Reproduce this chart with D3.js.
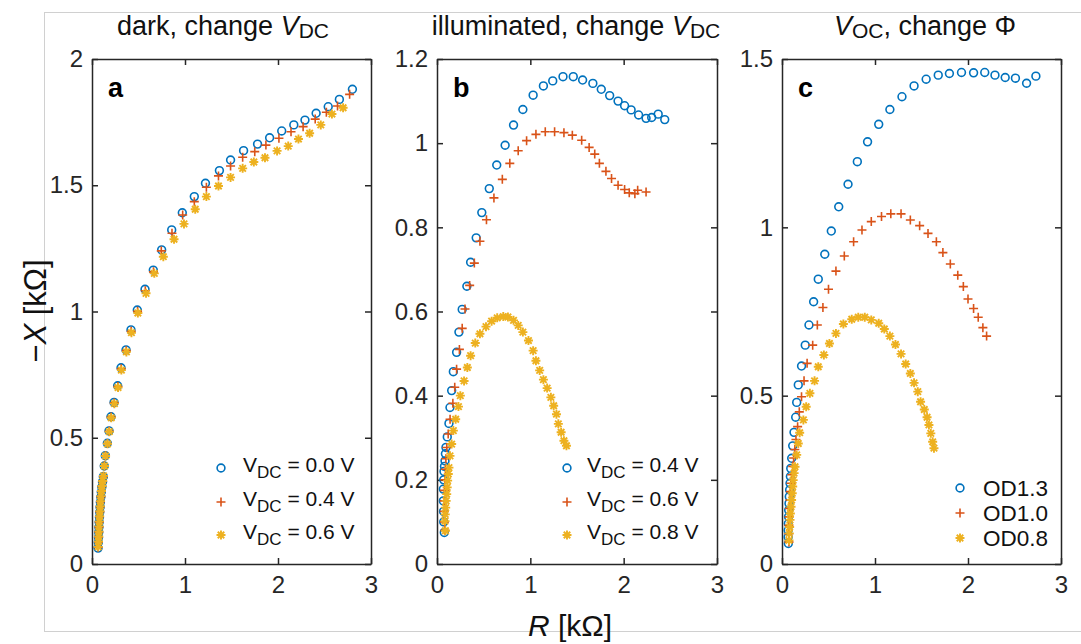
<!DOCTYPE html>
<html>
<head>
<meta charset="utf-8">
<script src="https://cdn.jsdelivr.net/npm/d3@7"></script>
<style>
  body { margin: 0; background: #fff; }
  svg { font-family: Helvetica, "Liberation Sans", Arial, sans-serif; }
  .tick text { fill: #262626; font-size: 24px; font-family: Helvetica, "Liberation Sans", Arial, sans-serif; }
  .domain, .tick line { stroke: #262626; stroke-width: 1.5; }
</style>
</head>
<body>
<div id="chart"></div>
<script>
// data, [R, -X] in kOhm
var darkV00 = [[0.065,0.063],[0.068,0.085],[0.07,0.105],[0.072,0.125],[0.074,0.145],[0.077,0.165],[0.08,0.185],[0.083,0.205],[0.087,0.225],[0.09,0.245],[0.095,0.265],[0.1,0.285],[0.106,0.305],[0.113,0.325],[0.122,0.346],[0.132,0.388],[0.143,0.429],[0.165,0.478],[0.183,0.527],[0.204,0.583],[0.237,0.640],[0.276,0.706],[0.312,0.777],[0.366,0.848],[0.419,0.927],[0.487,1.006],[0.570,1.088],[0.659,1.164],[0.749,1.244],[0.857,1.323],[0.971,1.391],[1.10,1.455],[1.22,1.508],[1.37,1.558],[1.49,1.600],[1.63,1.637],[1.78,1.663],[1.91,1.688],[2.04,1.715],[2.17,1.739],[2.29,1.758],[2.41,1.785],[2.54,1.811],[2.66,1.840],[2.80,1.880]];
var darkV04 = [[0.066,0.066],[0.069,0.087],[0.071,0.107],[0.073,0.127],[0.075,0.147],[0.078,0.167],[0.081,0.187],[0.084,0.207],[0.088,0.227],[0.091,0.247],[0.096,0.267],[0.101,0.287],[0.107,0.307],[0.114,0.327],[0.123,0.347],[0.133,0.389],[0.145,0.429],[0.166,0.477],[0.185,0.526],[0.206,0.582],[0.239,0.638],[0.278,0.703],[0.314,0.773],[0.368,0.845],[0.421,0.922],[0.490,1.001],[0.573,1.082],[0.661,1.157],[0.745,1.240],[0.860,1.310],[0.975,1.382],[1.10,1.435],[1.23,1.492],[1.36,1.537],[1.49,1.576],[1.62,1.611],[1.75,1.633],[1.87,1.659],[2.01,1.686],[2.14,1.712],[2.27,1.732],[2.40,1.762],[2.52,1.789],[2.64,1.814],[2.77,1.860]];
var darkV06 = [[0.067,0.068],[0.07,0.089],[0.072,0.109],[0.074,0.129],[0.076,0.149],[0.079,0.169],[0.082,0.189],[0.085,0.209],[0.089,0.229],[0.092,0.249],[0.097,0.269],[0.102,0.289],[0.108,0.309],[0.115,0.329],[0.124,0.349],[0.134,0.388],[0.146,0.428],[0.167,0.476],[0.186,0.524],[0.207,0.579],[0.241,0.635],[0.280,0.699],[0.316,0.768],[0.370,0.840],[0.424,0.916],[0.493,0.994],[0.581,1.072],[0.670,1.151],[0.767,1.217],[0.882,1.286],[0.989,1.347],[1.11,1.405],[1.23,1.455],[1.36,1.497],[1.49,1.531],[1.62,1.567],[1.74,1.592],[1.86,1.609],[1.99,1.636],[2.11,1.655],[2.22,1.683],[2.34,1.706],[2.46,1.739],[2.58,1.782],[2.70,1.807]];

var illumV04 = [[0.078,0.075],[0.072,0.10],[0.070,0.125],[0.068,0.15],[0.068,0.178],[0.072,0.20],[0.075,0.220],[0.080,0.232],[0.086,0.245],[0.090,0.262],[0.096,0.277],[0.11,0.302],[0.128,0.334],[0.139,0.372],[0.157,0.412],[0.175,0.457],[0.21,0.503],[0.235,0.551],[0.27,0.605],[0.32,0.660],[0.36,0.717],[0.42,0.775],[0.48,0.835],[0.56,0.892],[0.64,0.948],[0.73,0.995],[0.82,1.043],[0.92,1.080],[1.03,1.114],[1.14,1.136],[1.24,1.148],[1.35,1.158],[1.46,1.158],[1.56,1.150],[1.67,1.142],[1.76,1.128],[1.85,1.113],[1.94,1.100],[2.01,1.089],[2.08,1.079],[2.16,1.067],[2.24,1.059],[2.30,1.061],[2.37,1.069],[2.44,1.056]];
var illumV06 = [[0.085,0.08],[0.08,0.10],[0.078,0.125],[0.078,0.15],[0.08,0.175],[0.085,0.20],[0.09,0.225],[0.095,0.25],[0.105,0.277],[0.12,0.309],[0.14,0.344],[0.17,0.382],[0.19,0.42],[0.21,0.463],[0.24,0.51],[0.27,0.56],[0.30,0.606],[0.35,0.662],[0.40,0.715],[0.46,0.767],[0.53,0.818],[0.61,0.870],[0.70,0.914],[0.78,0.952],[0.87,0.982],[0.96,1.006],[1.06,1.021],[1.16,1.027],[1.26,1.027],[1.36,1.025],[1.45,1.019],[1.55,1.007],[1.63,0.990],[1.69,0.974],[1.74,0.952],[1.81,0.933],[1.87,0.916],[1.94,0.900],[2.01,0.890],[2.06,0.882],[2.12,0.880],[2.15,0.888],[2.24,0.884]];
var illumV08 = [[0.09,0.079],[0.086,0.102],[0.088,0.118],[0.093,0.134],[0.098,0.150],[0.104,0.166],[0.109,0.182],[0.114,0.198],[0.121,0.214],[0.128,0.229],[0.139,0.257],[0.157,0.285],[0.175,0.317],[0.20,0.344],[0.23,0.374],[0.25,0.400],[0.29,0.435],[0.325,0.467],[0.36,0.495],[0.41,0.525],[0.46,0.547],[0.525,0.564],[0.585,0.577],[0.645,0.585],[0.71,0.588],[0.76,0.587],[0.82,0.579],[0.87,0.567],[0.92,0.551],[0.98,0.531],[1.03,0.507],[1.06,0.483],[1.10,0.460],[1.14,0.438],[1.18,0.418],[1.22,0.396],[1.25,0.376],[1.28,0.356],[1.30,0.333],[1.33,0.313],[1.36,0.293],[1.387,0.281]];

var od13 = [[0.068,0.061],[0.066,0.08],[0.066,0.10],[0.068,0.12],[0.07,0.14],[0.072,0.16],[0.075,0.18],[0.078,0.20],[0.082,0.22],[0.086,0.24],[0.09,0.26],[0.094,0.284],[0.104,0.314],[0.115,0.351],[0.129,0.391],[0.147,0.436],[0.158,0.480],[0.175,0.532],[0.21,0.588],[0.25,0.650],[0.29,0.710],[0.34,0.779],[0.39,0.846],[0.46,0.920],[0.53,0.989],[0.61,1.061],[0.71,1.128],[0.81,1.195],[0.92,1.254],[1.04,1.306],[1.16,1.350],[1.29,1.388],[1.42,1.420],[1.55,1.440],[1.68,1.452],[1.80,1.457],[1.93,1.460],[2.06,1.459],[2.18,1.460],[2.29,1.452],[2.40,1.445],[2.51,1.443],[2.63,1.428],[2.73,1.449]];
var od10 = [[0.075,0.065],[0.073,0.09],[0.074,0.115],[0.076,0.14],[0.08,0.165],[0.085,0.19],[0.09,0.215],[0.096,0.24],[0.105,0.265],[0.115,0.29],[0.125,0.315],[0.138,0.34],[0.15,0.37],[0.168,0.408],[0.186,0.452],[0.21,0.497],[0.237,0.544],[0.27,0.596],[0.33,0.650],[0.38,0.710],[0.44,0.762],[0.50,0.816],[0.58,0.870],[0.67,0.915],[0.77,0.957],[0.86,0.992],[0.96,1.017],[1.07,1.032],[1.17,1.040],[1.28,1.040],[1.38,1.022],[1.48,1.005],[1.57,0.982],[1.66,0.957],[1.73,0.925],[1.81,0.891],[1.89,0.858],[1.95,0.824],[2.00,0.787],[2.06,0.759],[2.11,0.733],[2.16,0.702],[2.20,0.677]];
var od08 = [[0.075,0.07],[0.078,0.091],[0.082,0.11],[0.086,0.131],[0.09,0.15],[0.097,0.170],[0.103,0.19],[0.11,0.210],[0.115,0.23],[0.12,0.249],[0.13,0.27],[0.14,0.289],[0.158,0.324],[0.175,0.358],[0.19,0.390],[0.23,0.428],[0.26,0.467],[0.30,0.507],[0.35,0.544],[0.39,0.586],[0.45,0.621],[0.51,0.655],[0.58,0.685],[0.66,0.713],[0.75,0.727],[0.82,0.733],[0.89,0.733],[0.96,0.725],[1.04,0.715],[1.10,0.698],[1.16,0.677],[1.22,0.652],[1.28,0.624],[1.33,0.594],[1.38,0.566],[1.42,0.538],[1.46,0.512],[1.49,0.482],[1.53,0.459],[1.56,0.436],[1.58,0.413],[1.60,0.388],[1.62,0.363],[1.634,0.344]];

var xTicks = [0, 1, 2, 3];
var yTicksA = [0, 0.5, 1, 1.5, 2];
var yTicksB = [0, 0.2, 0.4, 0.6, 0.8, 1, 1.2];
var yTicksC = [0, 0.5, 1, 1.5];

var legendA = ["0.0", "0.4", "0.6"];
var legendB = ["0.4", "0.6", "0.8"];
var legendC = ["OD1.3", "OD1.0", "OD0.8"];

var colors = ["#0072BD", "#D95319", "#EDB120"];

var svgWidth = 1081;
var svgHeight = 644;

var svg = d3.select("#chart")
  .append("svg")
  .attr("width", svgWidth)
  .attr("height", svgHeight);

// light frame round the figure
svg.append("rect")
  .attr("x", 44.5).attr("y", 12.5)
  .attr("width", 1060).attr("height", 619)
  .attr("fill", "none")
  .attr("stroke", "#d0d0d0")
  .attr("stroke-width", 1);

// marker shapes
function markerPath(i) {
  var s = 4.5;
  if (i === 1) return `M${-s},0H${s}M0,${-s}V${s}`;
  if (i === 2) {
    var d = s * 0.72;
    return `M${-s},0H${s}M0,${-s}V${s}M${-d},${-d}L${d},${d}M${-d},${d}L${d},${-d}`;
  }
  return null;
}

function drawMarker(g, i, x, y) {
  if (i === 0) {
    g.append("circle")
      .attr("cx", x).attr("cy", y).attr("r", 3.9)
      .attr("fill", "none")
      .attr("stroke", colors[0])
      .attr("stroke-width", 1.6);
  } else {
    g.append("path")
      .attr("transform", `translate(${x},${y})`)
      .attr("d", markerPath(i))
      .attr("fill", "none")
      .attr("stroke", colors[i])
      .attr("stroke-width", i === 2 ? 1.9 : 1.6);
  }
}

var panels = [
  { left: 92, right: 371, yMax: 2, yTicks: yTicksA, series: [darkV00, darkV04, darkV06], letter: "a", titleX: 223,
    title: ["dark, change ", "V", "DC"], legend: legendA, legX: 221, legTx: 243, legY: [468, 502, 535] },
  { left: 437, right: 717, yMax: 1.2, yTicks: yTicksB, series: [illumV04, illumV06, illumV08], letter: "b", titleX: 576,
    title: ["illuminated, change ", "V", "DC"], legend: legendB, legX: 567, legTx: 587, legY: [468, 502, 535] },
  { left: 782, right: 1061, yMax: 1.5, yTicks: yTicksC, series: [od13, od10, od08], letter: "c", titleX: 925,
    title: ["", "V", "OC", ", change \u03A6"], legend: legendC, legX: 960, legTx: 983, legY: [488, 513, 538] }
];

var plotTop = 59;
var plotBottom = 564;

panels.forEach(function (p) {
  var xScale = d3.scaleLinear().domain([0, 3]).range([p.left, p.right]);
  var yScale = d3.scaleLinear().domain([0, p.yMax]).range([plotBottom, plotTop]);
  var fmt = d => String(+d.toFixed(2));

  var g = svg.append("g");

  g.append("g")
    .attr("transform", `translate(0,${plotBottom})`)
    .call(d3.axisBottom(xScale).tickValues(xTicks).tickSizeInner(-6).tickSizeOuter(0).tickPadding(12).tickFormat(fmt));
  g.append("g")
    .attr("transform", `translate(0,${plotTop})`)
    .call(d3.axisTop(xScale).tickValues(xTicks).tickSizeInner(-6).tickSizeOuter(0).tickFormat(""));
  g.append("g")
    .attr("transform", `translate(${p.left},0)`)
    .call(d3.axisLeft(yScale).tickValues(p.yTicks).tickSizeInner(-6).tickSizeOuter(0).tickPadding(9).tickFormat(fmt));
  g.append("g")
    .attr("transform", `translate(${p.right},0)`)
    .call(d3.axisRight(yScale).tickValues(p.yTicks).tickSizeInner(-6).tickSizeOuter(0).tickFormat(""));

  // markers, blue then red then yellow on top
  p.series.forEach(function (s, i) {
    var mg = g.append("g");
    s.forEach(function (d) {
      drawMarker(mg, i, xScale(d[0]), yScale(d[1]));
    });
  });

  // title
  var t = g.append("text")
    .attr("x", p.titleX)
    .attr("y", 35)
    .attr("text-anchor", "middle")
    .attr("font-size", 27)
    .attr("fill", "#111");
  t.append("tspan").text(p.title[0]);
  t.append("tspan").attr("font-style", "italic").text(p.title[1]);
  t.append("tspan").attr("font-size", 21).attr("dy", 3).text(p.title[2]);
  if (p.title[3]) t.append("tspan").attr("dy", -3).text(p.title[3]);

  // panel letter
  g.append("text")
    .attr("x", p.left + 16)
    .attr("y", 97)
    .attr("font-size", 27)
    .attr("font-weight", "bold")
    .attr("fill", "#000")
    .text(p.letter);

  // legend
  p.legend.forEach(function (lab, i) {
    var y = p.legY[i];
    drawMarker(g, i, p.legX, y);
    var lt = g.append("text")
      .attr("x", p.legTx)
      .attr("fill", "#111");
    if (p.letter === "c") {
      lt.attr("y", y + 8).attr("font-size", 22.5).text(lab);
    } else {
      lt.attr("y", y + 4).attr("font-size", 21);
      lt.append("tspan").text("V");
      lt.append("tspan").attr("font-size", 17).attr("dy", 6).text("DC");
      lt.append("tspan").attr("dy", -6).text(" = " + lab + " V");
    }
  });
});

// axis labels
var yl = svg.append("text")
  .attr("transform", "translate(46,311) rotate(-90)")
  .attr("text-anchor", "middle")
  .attr("font-size", 31)
  .attr("fill", "#111");
yl.append("tspan").text("\u2212");
yl.append("tspan").attr("font-style", "italic").text("X");
yl.append("tspan").text(" [k\u03A9]");

var xl = svg.append("text")
  .attr("x", 570)
  .attr("y", 636)
  .attr("text-anchor", "middle")
  .attr("font-size", 30)
  .attr("fill", "#111");
xl.append("tspan").attr("font-style", "italic").text("R");
xl.append("tspan").text(" [k\u03A9]");
</script>
</body>
</html>
